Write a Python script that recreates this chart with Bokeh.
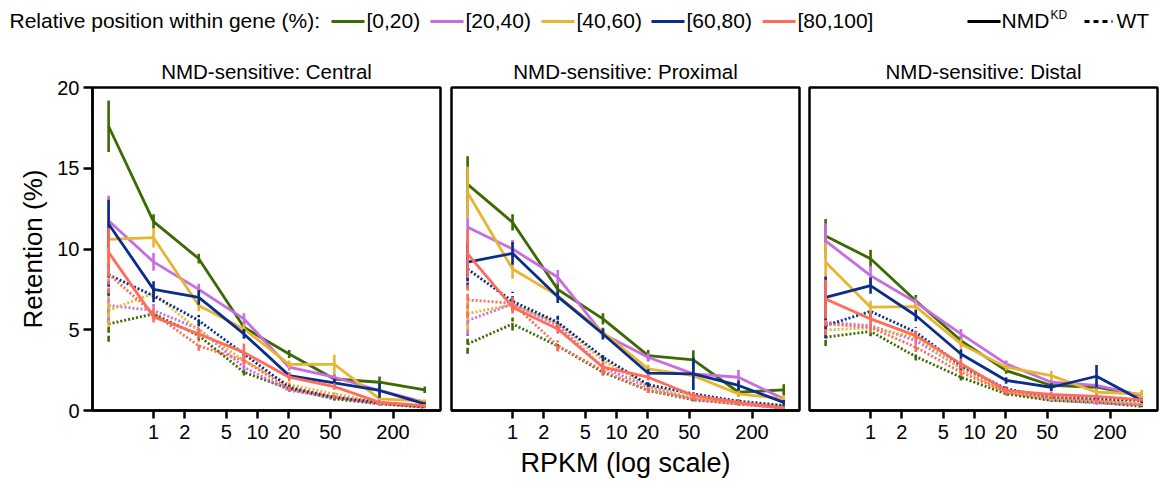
from bokeh.plotting import figure
from bokeh.layouts import column, row
from bokeh.models import Range1d, FixedTicker, NumeralTickFormatter
from bokeh.embed import file_html
from bokeh.resources import INLINE
from bokeh.core.properties import value

# ---------------- data ----------------
rpkm_bins = [0.37, 1.0, 2.72, 7.39, 20.1, 54.6, 148.4, 403.4]
position_bins = ["[0,20)", "[20,40)", "[40,60)", "[60,80)", "[80,100]"]
series_colors = ["#3b6a00", "#c76de0", "#e8b533", "#0b2d8a", "#ff6c5a"]
panel_titles = ["NMD-sensitive: Central", "NMD-sensitive: Proximal", "NMD-sensitive: Distal"]
x_ticks = [1, 2, 5, 10, 20, 50, 200]
y_ticks = [0, 5, 10, 15, 20]

# rows: [0,20), [20,40), [40,60), [60,80), [80,100]
central_kd = [
    [17.6, 11.7, 9.4, 5.15, 3.5, 1.95, 1.75, 1.28],
    [11.75, 9.2, 7.5, 5.67, 2.68, 2.06, 1.24, 0.5],
    [10.6, 10.7, 6.5, 5.05, 2.85, 2.85, 0.72, 0.58],
    [11.55, 7.5, 7.0, 4.74, 2.16, 1.71, 1.24, 0.41],
    [9.8, 5.8, 4.74, 3.6, 2.06, 1.48, 0.5, 0.3],
]
central_kd_err = [
    [1.6, 0.45, 0.3, 0.3, 0.25, 0.25, 0.35, 0.2],
    [1.55, 0.55, 0.35, 0.35, 0.2, 0.2, 0.2, 0.1],
    [1.5, 0.6, 0.35, 0.3, 0.25, 0.6, 0.15, 0.1],
    [1.5, 0.5, 0.45, 0.3, 0.2, 0.25, 0.45, 0.1],
    [1.5, 0.35, 0.3, 0.55, 0.25, 0.2, 0.15, 0.1],
]
central_wt = [
    [5.36, 5.98, 4.64, 2.37, 1.34, 0.72, 0.41, 0.2],
    [6.5, 6.2, 5.05, 2.68, 1.24, 0.82, 0.41, 0.25],
    [6.2, 7.26, 4.95, 3.1, 1.6, 1.03, 0.5, 0.3],
    [8.4, 7.1, 5.57, 3.5, 1.44, 0.82, 0.5, 0.25],
    [8.45, 6.0, 4.0, 3.1, 1.34, 0.82, 0.45, 0.2],
]
central_wt_err = [
    [1.1, 0.3, 0.3, 0.2, 0.1, 0.1, 0.1, 0.05],
    [1.0, 0.4, 0.3, 0.2, 0.1, 0.1, 0.1, 0.05],
    [1.0, 0.4, 0.3, 0.25, 0.15, 0.1, 0.1, 0.05],
    [1.3, 0.4, 0.35, 0.25, 0.15, 0.1, 0.1, 0.05],
    [1.2, 0.35, 0.3, 0.25, 0.15, 0.1, 0.1, 0.05],
]

proximal_kd = [
    [14.0, 11.65, 7.5, 5.67, 3.4, 3.13, 1.13, 1.28],
    [11.34, 10.0, 8.25, 4.74, 3.3, 2.27, 2.06, 0.72],
    [13.5, 8.76, 7.1, 4.85, 2.58, 2.16, 1.03, 0.72],
    [9.18, 9.73, 7.05, 4.74, 2.31, 2.27, 1.55, 0.5],
    [9.7, 6.4, 5.05, 2.68, 2.06, 0.93, 0.5, 0.16],
]
proximal_kd_err = [
    [1.75, 0.5, 0.4, 0.35, 0.35, 0.6, 0.3, 0.35],
    [1.6, 0.55, 0.45, 0.3, 0.25, 0.3, 0.45, 0.15],
    [1.6, 0.6, 0.35, 0.3, 0.25, 0.3, 0.2, 0.15],
    [1.2, 0.7, 0.4, 0.35, 0.25, 1.0, 0.3, 0.15],
    [1.5, 0.4, 0.3, 0.3, 0.2, 0.2, 0.15, 0.05],
]
proximal_wt = [
    [4.12, 5.36, 4.0, 2.37, 1.24, 0.66, 0.41, 0.16],
    [5.57, 6.6, 5.26, 2.68, 1.44, 0.72, 0.41, 0.16],
    [6.0, 6.56, 5.4, 3.1, 1.48, 0.82, 0.45, 0.25],
    [8.76, 6.76, 5.46, 3.3, 1.6, 1.03, 0.58, 0.31],
    [6.85, 6.64, 4.0, 2.47, 1.24, 0.72, 0.41, 0.16],
]
proximal_wt_err = [
    [0.6, 0.4, 0.25, 0.2, 0.15, 0.1, 0.1, 0.05],
    [0.9, 0.35, 0.3, 0.2, 0.15, 0.1, 0.1, 0.05],
    [1.0, 0.35, 0.3, 0.3, 0.15, 0.1, 0.1, 0.05],
    [1.2, 0.6, 0.4, 0.25, 0.15, 0.1, 0.1, 0.05],
    [1.1, 0.4, 0.35, 0.25, 0.15, 0.1, 0.1, 0.05],
]

distal_kd = [
    [10.8, 9.4, 6.8, 4.33, 2.47, 1.55, 1.44, 0.93],
    [10.5, 8.35, 6.7, 4.74, 2.89, 1.75, 1.55, 0.93],
    [9.18, 6.4, 6.43, 4.12, 2.68, 2.16, 1.13, 1.03],
    [7.0, 7.73, 5.88, 3.5, 1.86, 1.44, 2.12, 0.62],
    [6.9, 5.67, 4.64, 2.89, 1.24, 0.99, 0.87, 0.66],
]
distal_kd_err = [
    [1.05, 0.55, 0.35, 0.3, 0.2, 0.2, 0.2, 0.2],
    [1.1, 0.6, 0.3, 0.3, 0.2, 0.2, 0.2, 0.15],
    [1.2, 0.4, 0.3, 0.3, 0.2, 0.3, 0.2, 0.25],
    [1.3, 0.5, 0.35, 0.3, 0.2, 0.25, 0.7, 0.15],
    [1.2, 0.4, 0.3, 0.3, 0.2, 0.15, 0.15, 0.1],
]
distal_wt = [
    [4.54, 4.9, 3.34, 2.06, 1.03, 0.62, 0.52, 0.25],
    [5.46, 5.26, 4.33, 2.64, 1.13, 0.66, 0.45, 0.37],
    [4.99, 5.11, 4.54, 2.58, 1.13, 0.72, 0.62, 0.45],
    [5.26, 6.14, 4.85, 2.78, 1.34, 0.82, 0.72, 0.62],
    [5.36, 5.15, 3.92, 2.37, 1.13, 0.82, 0.62, 0.37],
]
distal_wt_err = [
    [0.55, 0.3, 0.25, 0.2, 0.1, 0.1, 0.1, 0.05],
    [0.6, 0.3, 0.3, 0.2, 0.1, 0.1, 0.1, 0.05],
    [0.5, 0.3, 0.25, 0.2, 0.1, 0.1, 0.1, 0.05],
    [0.8, 0.35, 0.3, 0.25, 0.15, 0.1, 0.1, 0.05],
    [0.7, 0.3, 0.3, 0.25, 0.15, 0.1, 0.1, 0.05],
]

FONT = "Liberation Sans"
FRAME_W = 348
FRAME_H = 323
TOP = 42
BOTTOM = 74


def make_panel(title, kd, kd_err, wt, wt_err, left, right, first=False, xlabel=False):
    p = figure(frame_width=FRAME_W, frame_height=FRAME_H, x_axis_type="log",
               x_range=Range1d(0.259, 572), y_range=Range1d(0, 20),
               output_backend="svg", toolbar_location=None,
               min_border_left=left, min_border_right=right,
               min_border_top=TOP, min_border_bottom=BOTTOM)
    p.title.text = title
    p.title.align = "center"
    p.title.text_font = FONT
    p.title.text_font_size = "20.5px"
    p.title.text_font_style = "normal"
    p.title.text_color = "black"
    p.title.standoff = 10
    p.xgrid.visible = False
    p.ygrid.visible = False
    p.outline_line_color = "black"
    p.outline_line_width = 2.5
    p.outline_line_alpha = 1
    p.background_fill_color = "white"
    p.border_fill_color = "white"

    for ax in p.xaxis:
        ax.ticker = FixedTicker(ticks=x_ticks)
        ax.formatter = NumeralTickFormatter(format="0")
        ax.axis_line_width = 2.5
        ax.major_tick_line_width = 2.5
        ax.major_tick_out = 8
        ax.major_tick_in = 0
        ax.minor_tick_out = 0
        ax.minor_tick_in = 0
        ax.major_label_text_font = FONT
        ax.major_label_text_font_size = "20px"
        ax.major_label_text_color = "black"
        ax.major_label_standoff = 6
        if xlabel:
            ax.axis_label = "RPKM (log scale)"
            ax.axis_label_text_font = FONT
            ax.axis_label_text_font_size = "27px"
            ax.axis_label_text_font_style = "normal"
            ax.axis_label_text_color = "black"
            ax.axis_label_standoff = 6

    for ax in p.yaxis:
        if first:
            ax.ticker = FixedTicker(ticks=y_ticks)
            ax.axis_line_width = 2.5
            ax.major_tick_line_width = 2.5
            ax.major_tick_out = 9
            ax.major_tick_in = 0
            ax.minor_tick_out = 0
            ax.minor_tick_in = 0
            ax.major_label_text_font = FONT
            ax.major_label_text_font_size = "20px"
            ax.major_label_text_color = "black"
            ax.major_label_standoff = 4
            ax.axis_label = "Retention (%)"
            ax.axis_label_text_font = FONT
            ax.axis_label_text_font_size = "26px"
            ax.axis_label_text_font_style = "normal"
            ax.axis_label_text_color = "black"
            ax.axis_label_standoff = 6
        else:
            ax.visible = False

    # WT (dotted) first, then NMD-KD (solid) on top
    for ys, es, dash, edash in ((wt, wt_err, "2 2", "6 3"), (kd, kd_err, "solid", "solid")):
        for i, color in enumerate(series_colors):
            y = ys[i]
            e = es[i]
            p.line(rpkm_bins, y, line_color=color, line_width=2.8, line_dash=dash)
            p.segment(x0=rpkm_bins, y0=[a - b for a, b in zip(y, e)],
                      x1=rpkm_bins, y1=[a + b for a, b in zip(y, e)],
                      line_color=color, line_width=2.6, line_dash=edash)
    return p


p1 = make_panel(panel_titles[0], central_kd, central_kd_err, central_wt, central_wt_err,
                left=92, right=5, first=True)
p2 = make_panel(panel_titles[1], proximal_kd, proximal_kd_err, proximal_wt, proximal_wt_err,
                left=6, right=5, xlabel=True)
p3 = make_panel(panel_titles[2], distal_kd, distal_kd_err, distal_wt, distal_wt_err,
                left=5, right=7)

# ---------------- legend strip ----------------
lg = figure(width=1164, height=45, x_range=Range1d(0, 1164), y_range=Range1d(45, 0),
            output_backend="svg", toolbar_location=None, min_border=0)
lg.axis.visible = False
lg.xgrid.visible = False
lg.ygrid.visible = False
lg.outline_line_color = None

LFS = "21px"
legend_line_x = [331, 430, 541, 651, 762]
LINE_LEN = 33
LY = 20
lg.text(x=[9], y=[LY], text=["Relative position within gene (%):"],
        text_font=value(FONT), text_font_size=LFS, text_baseline="middle",
        text_align="left", text_color="black")
for i, color in enumerate(series_colors):
    x0 = legend_line_x[i]
    lg.segment(x0=[x0], y0=[LY + 1], x1=[x0 + LINE_LEN], y1=[LY + 1], line_color=color, line_width=3)
    lg.text(x=[x0 + LINE_LEN + 2], y=[LY], text=[position_bins[i]], text_font=value(FONT),
            text_font_size=LFS, text_baseline="middle", text_align="left", text_color="black")

lg.segment(x0=[967], y0=[LY + 1], x1=[1000], y1=[LY + 1], line_color="black", line_width=3)
lg.text(x=[1001], y=[LY], text=["NMD"], text_font=value(FONT), text_font_size=LFS,
        text_baseline="middle", text_align="left", text_color="black")
lg.text(x=[1050], y=[LY - 6], text=["KD"], text_font=value(FONT), text_font_size="12px",
        text_baseline="middle", text_align="left", text_color="black")
lg.segment(x0=[1084], y0=[LY + 1], x1=[1112], y1=[LY + 1], line_color="black", line_width=3,
           line_dash="5 4")
lg.text(x=[1116], y=[LY], text=["WT"], text_font=value(FONT), text_font_size=LFS,
        text_baseline="middle", text_align="left", text_color="black")

layout = column(lg, row(p1, p2, p3, spacing=0), spacing=0)

open("out.html", "w").write(file_html(layout, INLINE))
